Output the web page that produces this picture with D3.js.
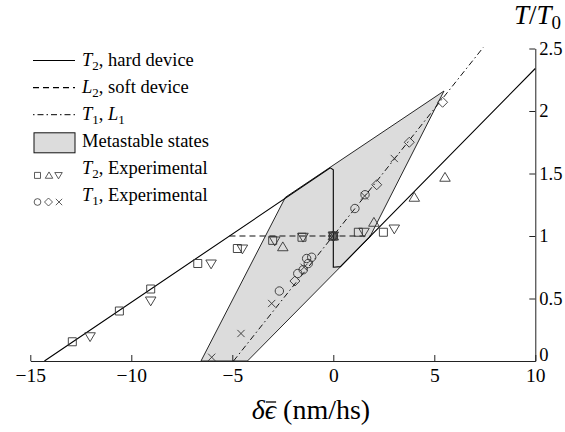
<!DOCTYPE html>
<html>
<head>
<meta charset="utf-8">
<script src="https://cdn.jsdelivr.net/npm/d3@7"></script>
<style>
    html, body { margin: 0; padding: 0; background: #fff; }
    svg { display: block; }
    svg text { font-family: "Liberation Serif", "DejaVu Serif", "Times New Roman", serif; }
</style>
</head>
<body>
<svg id="chart" width="565" height="432"></svg>
<script>
// Values (x: strain rate in nm/hs, y: T/T0)
const xTicks = [-15, -10, -5, 0, 5, 10];
const yTicks = [0, 0.5, 1, 1.5, 2, 2.5];
const yTickLabels = ['0', '0.5', '1', '1.5', '2', '2.5'];

// model curves
const t2Hard = [[-14.3, 0], [-0.15, 1.545], [0, 1.53], [0, 0.75], [0.35, 0.755], [10, 2.34]];
const l2Soft = [[-5.14, 1], [1.84, 1]];
const t1L1 = [[-4.94, 0], [7.43, 2.51]];
const metastable = [[-6.55, 0], [-2.37, 1.31], [5.48, 2.16], [1.8, 0.99], [-4.25, 0]];

// T2 experimental
const t2Squares = [[-12.92, 0.154], [-10.59, 0.40], [-9.04, 0.576], [-6.71, 0.78], [-4.75, 0.90],
    [-3.0, 0.965], [-1.55, 0.99], [0, 1], [1.24, 1.03], [2.48, 1.03]];
const t2Up = [[-2.5, 0.914], [0, 1], [2.01, 1.11], [4.01, 1.31], [5.53, 1.47]];
const t2Down = [[-12.04, 0.194], [-9.04, 0.48], [-6.05, 0.776], [-4.5, 0.896], [-2.9, 0.96],
    [-1.5, 0.99], [0, 1], [1.52, 1.03], [3.02, 1.056]];

// T1 experimental
const t1Circles = [[-2.67, 0.56], [-1.76, 0.70], [-1.49, 0.73], [-1.24, 0.78], [-1.32, 0.82],
    [-1.07, 0.83], [0, 1], [1.07, 1.22], [1.57, 1.33]];
const t1Diamonds = [[-1.9, 0.64], [0, 1], [2.15, 1.41], [3.76, 1.75], [5.41, 2.07]];
const t1Crosses = [[-6.02, 0.03], [-4.57, 0.22], [-3.05, 0.46], [-1.45, 0.75], [0, 1], [1.55, 1.32], [3.02, 1.62]];

const SERIF = '"Liberation Serif", "DejaVu Serif", "Times New Roman", serif';

const svg = d3.select('#chart').attr('font-family', SERIF);
const x = d3.scaleLinear().domain([-15, 10]).range([30.3, 535.3]);
const y = d3.scaleLinear().domain([0, 2.5]).range([361, 48.5]);

const line = d3.line().x(d => x(d[0])).y(d => y(d[1]));

// simple marker shapes, s = half size in px
function markerPath(type, s) {
    switch (type) {
        case 'square':
            return `M${-s},${-s}h${2 * s}v${2 * s}h${-2 * s}Z`;
        case 'up':
            return `M0,${-s * 1.15}L${s * 1.25},${s * 0.95}L${-s * 1.25},${s * 0.95}Z`;
        case 'down':
            return `M0,${s * 1.15}L${s * 1.25},${-s * 0.95}L${-s * 1.25},${-s * 0.95}Z`;
        case 'circle':
            return `M${s * 1.05},0A${s * 1.05},${s * 1.05} 0 1,1 ${-s * 1.05},0A${s * 1.05},${s * 1.05} 0 1,1 ${s * 1.05},0Z`;
        case 'diamond':
            return `M0,${-s * 1.25}L${s * 1.25},0L0,${s * 1.25}L${-s * 1.25},0Z`;
        case 'cross':
            return `M${-s},${-s}L${s},${s}M${-s},${s}L${s},${-s}`;
    }
}

// metastable region
svg.append('path')
    .datum(metastable)
    .attr('d', d3.line().x(d => x(d[0])).y(d => y(d[1])).curve(d3.curveLinearClosed))
    .attr('fill', '#dcdcdc')
    .attr('stroke', '#111')
    .attr('stroke-width', 0.9);

// curves
svg.append('path').datum(t1L1).attr('d', line)
    .attr('fill', 'none').attr('stroke', '#111').attr('stroke-width', 1)
    .attr('stroke-dasharray', '6,3,1.5,3');

svg.append('path').datum(l2Soft).attr('d', line)
    .attr('fill', 'none').attr('stroke', '#111').attr('stroke-width', 1.1)
    .attr('stroke-dasharray', '6,4');

svg.append('path').datum(t2Hard).attr('d', line)
    .attr('fill', 'none').attr('stroke', '#000').attr('stroke-width', 1.1);

// experimental points
const markerSets = [
    { data: t2Squares, type: 'square', s: 4 },
    { data: t2Up, type: 'up', s: 4.2 },
    { data: t2Down, type: 'down', s: 4.2 },
    { data: t1Circles, type: 'circle', s: 4 },
    { data: t1Diamonds, type: 'diamond', s: 4 },
    { data: t1Crosses, type: 'cross', s: 3.6 }
];

markerSets.forEach(set => {
    svg.append('g').selectAll('path')
        .data(set.data)
        .enter().append('path')
        .attr('transform', d => `translate(${x(d[0])},${y(d[1])})`)
        .attr('d', markerPath(set.type, set.s))
        .attr('fill', 'none')
        .attr('stroke', '#333')
        .attr('stroke-width', 0.9);
});

// axes
const fmt = d => d < 0 ? '\u2212' + Math.abs(d) : String(d);

const xAxis = svg.append('g')
    .attr('transform', `translate(0,${y(0)})`)
    .call(d3.axisBottom(x).tickValues(xTicks).tickFormat(fmt)
        .tickSizeInner(-6).tickSizeOuter(0).tickPadding(7));

const yAxis = svg.append('g')
    .attr('transform', `translate(${x(10)},0)`)
    .call(d3.axisRight(y).tickValues(yTicks).tickFormat((d, i) => yTickLabels[i])
        .tickSizeInner(-6).tickSizeOuter(0).tickPadding(4));

[xAxis, yAxis].forEach(g => {
    g.attr('font-family', SERIF).attr('font-size', null);
    g.selectAll('path, line').attr('stroke', '#222').attr('stroke-width', 1);
    g.selectAll('text').attr('fill', '#000');
});
xAxis.selectAll('text').style('font-size', '19.5px');
yAxis.selectAll('text').style('font-size', '18.5px');
// the "0" on the right axis sits a little high so it clears the "10"
yAxis.selectAll('text').filter(d => d === 0).attr('dy', '-0.05em');

// axis titles
const xTitle = svg.append('text')
    .attr('x', 311)
    .attr('y', 419)
    .attr('text-anchor', 'middle')
    .style('font-size', '28px');
xTitle.append('tspan').attr('font-style', 'italic').text('\u03b4\u03f5');
xTitle.append('tspan').text(' (nm/hs)');

const eps = xTitle.node().getExtentOfChar(1);
svg.append('line')
    .attr('x1', eps.x + 1).attr('x2', eps.x + eps.width)
    .attr('y1', 402).attr('y2', 402)
    .attr('stroke', '#000').attr('stroke-width', 1.3);

const yTitle = svg.append('text')
    .attr('x', 514)
    .attr('y', 24)
    .style('font-size', '27px');
yTitle.append('tspan').attr('font-style', 'italic').text('T');
yTitle.append('tspan').text('/');
yTitle.append('tspan').attr('font-style', 'italic').text('T');
yTitle.append('tspan').attr('dy', 5).style('font-size', '19px').text('0');

// legend
const legend = svg.append('g');
const rowY = i => 65.5 + 27.1 * i;

function legendLabel(i, sym, sub, rest) {
    const t = legend.append('text').attr('x', 82).attr('y', rowY(i)).style('font-size', '18.5px');
    if (sym) {
        t.append('tspan').attr('font-style', 'italic').text(sym);
        t.append('tspan').attr('dy', 4).style('font-size', '13px').text(sub);
        t.append('tspan').attr('dy', -4).text(rest);
    } else {
        t.text(rest);
    }
    return t;
}

legend.append('line').attr('x1', 33).attr('x2', 75).attr('y1', rowY(0) - 5).attr('y2', rowY(0) - 5)
    .attr('stroke', '#000').attr('stroke-width', 1.1);
legendLabel(0, 'T', '2', ', hard device');

legend.append('line').attr('x1', 33).attr('x2', 75).attr('y1', rowY(1) - 5).attr('y2', rowY(1) - 5)
    .attr('stroke', '#000').attr('stroke-width', 1.1).attr('stroke-dasharray', '6,4');
legendLabel(1, 'L', '2', ', soft device');

legend.append('line').attr('x1', 33).attr('x2', 75).attr('y1', rowY(2) - 5).attr('y2', rowY(2) - 5)
    .attr('stroke', '#000').attr('stroke-width', 1).attr('stroke-dasharray', '1.5,3,6,3');
const t1Label = legendLabel(2, 'T', '1', ', ');
t1Label.append('tspan').attr('font-style', 'italic').text('L');
t1Label.append('tspan').attr('dy', 4).style('font-size', '13px').text('1');

legend.append('rect').attr('x', 34).attr('y', rowY(3) - 14).attr('width', 41).attr('height', 20)
    .attr('fill', '#dcdcdc').attr('stroke', '#111').attr('stroke-width', 1);
legendLabel(3, null, null, 'Metastable states');

[['square', 37.5], ['up', 49], ['down', 58.5]].forEach(([type, cx]) => {
    legend.append('path')
        .attr('transform', `translate(${cx},${rowY(4) + 1.5})`)
        .attr('d', markerPath(type, 3))
        .attr('fill', 'none').attr('stroke', '#333').attr('stroke-width', 0.8);
});
legendLabel(4, 'T', '2', ', Experimental');

[['circle', 37.5], ['diamond', 48.5], ['cross', 59]].forEach(([type, cx]) => {
    legend.append('path')
        .attr('transform', `translate(${cx},${rowY(5) + 1})`)
        .attr('d', markerPath(type, 3.2))
        .attr('fill', 'none').attr('stroke', '#333').attr('stroke-width', 0.8);
});
legendLabel(5, 'T', '1', ', Experimental');
</script>
</body>
</html>
